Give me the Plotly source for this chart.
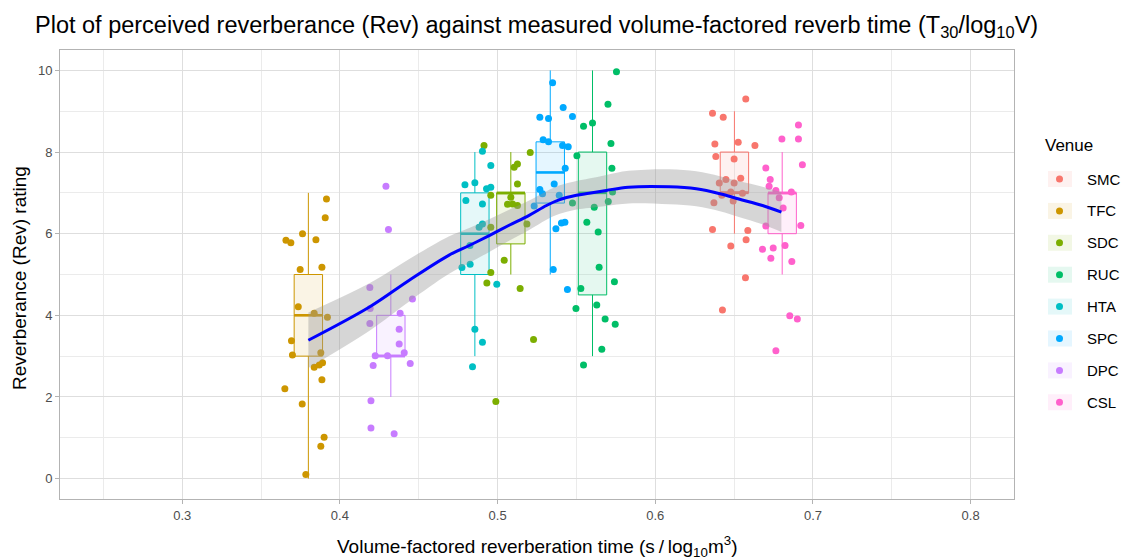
import plotly.graph_objects as go

# Venues, palette and the volume-factored reverb time of each venue
venues = ["SMC", "TFC", "SDC", "RUC", "HTA", "SPC", "DPC", "CSL"]
colors = ["#F8766D", "#CD9600", "#7CAE00", "#00BE67", "#00BFC4", "#00A9FF", "#C77CFF", "#FF61CC"]
venue_t = [0.6502, 0.3800, 0.5084, 0.5602, 0.4856, 0.5334, 0.4323, 0.6805]

# Box statistics of the Rev ratings per venue
box_q1 = [7, 3, 5.75, 4.5, 5, 6.75, 3, 6]
box_median = [7, 4, 7, 7, 6, 7.5, 3, 7]
box_q3 = [8, 5, 7, 8, 7, 8.25, 4, 7]
box_lower = [6, 0, 5, 3, 3, 5, 2, 5]
box_upper = [9, 7, 8, 10, 8, 10, 5, 8]

# Individual (jittered) ratings
smc_x = [0.6574, 0.6363, 0.6431, 0.6378, 0.6526, 0.6632, 0.6384, 0.6500, 0.6448, 0.6406, 0.6542,
         0.6500, 0.6422, 0.6479, 0.6553, 0.6372, 0.6494, 0.6363, 0.6587, 0.6576, 0.6479, 0.6572, 0.6426]
smc_y = [9.30, 8.95, 8.85, 8.20, 8.24, 8.16, 7.89, 7.83, 7.33, 7.24, 7.36,
         7.24, 6.94, 7.02, 6.99, 6.76, 6.80, 6.10, 6.08, 5.85, 5.70, 4.92, 4.13]
tfc_x = [0.3915, 0.3907, 0.3763, 0.3848, 0.3658, 0.3689, 0.3748, 0.3886, 0.3736, 0.3837, 0.3921,
         0.3693, 0.3699, 0.3879, 0.3837, 0.3869, 0.3890, 0.3886, 0.3651, 0.3761, 0.3900, 0.3879, 0.3784]
tfc_y = [6.85, 6.39, 6.00, 5.85, 5.84, 5.78, 5.12, 5.18, 4.21, 4.05, 3.95,
         3.38, 3.03, 3.08, 2.73, 2.78, 2.84, 2.42, 2.20, 1.83, 1.01, 0.79, 0.10]
sdc_x = [0.4914, 0.5207, 0.5126, 0.5105, 0.5126, 0.4957, 0.5084, 0.5063, 0.5126, 0.5095,
         0.4957, 0.5186, 0.5042, 0.4957, 0.4932, 0.5143, 0.5228, 0.4989]
sdc_y = [8.16, 7.99, 7.71, 7.63, 7.22, 6.94, 6.89, 6.72, 6.69, 6.73,
         6.16, 6.24, 5.35, 5.05, 4.79, 4.66, 3.41, 1.89]
ruc_x = [0.5754, 0.5700, 0.5602, 0.5545, 0.5719, 0.5503, 0.5725, 0.5475, 0.5613, 0.5702, 0.5729,
         0.5566, 0.5638, 0.5644, 0.5741, 0.5528, 0.5497, 0.5629, 0.5682, 0.5746, 0.5661, 0.5545]
ruc_y = [9.97, 9.17, 8.71, 8.63, 8.21, 7.91, 7.60, 6.75, 6.65, 6.79, 7.02,
         6.28, 6.04, 5.18, 4.82, 4.66, 4.17, 4.25, 3.91, 3.78, 3.17, 2.78]
hta_x = [0.4904, 0.4957, 0.4793, 0.4856, 0.4930, 0.4957, 0.4799, 0.4904, 0.4904, 0.4883,
         0.4825, 0.4774, 0.4826, 0.4995, 0.4856, 0.4904, 0.4841]
hta_y = [8.02, 7.67, 7.20, 7.25, 7.10, 7.14, 6.81, 6.73, 6.24, 6.16,
         5.71, 5.17, 5.25, 4.76, 3.66, 3.34, 2.74]
spc_x = [0.5349, 0.5416, 0.5268, 0.5323, 0.5475, 0.5289, 0.5323, 0.5412, 0.5448, 0.5429, 0.5359,
         0.5268, 0.5285, 0.5232, 0.5391, 0.5370, 0.5405, 0.5427, 0.5353, 0.5443]
spc_y = [9.70, 9.09, 8.85, 8.82, 8.87, 8.30, 8.25, 8.16, 8.13, 7.60, 7.22,
         7.08, 6.98, 6.68, 6.94, 6.12, 6.26, 6.28, 5.12, 4.63]
dpc_x = [0.4292, 0.4308, 0.4190, 0.4192, 0.4460, 0.4190, 0.4382, 0.4376, 0.4376,
         0.4224, 0.4302, 0.4408, 0.4211, 0.4446, 0.4197, 0.4197, 0.4344]
dpc_y = [7.16, 6.10, 4.68, 4.17, 4.40, 3.80, 4.05, 3.66, 3.30,
         3.01, 3.01, 3.08, 2.77, 2.82, 1.91, 1.24, 1.10]
csl_x = [0.6908, 0.6803, 0.6908, 0.6933, 0.6701, 0.6729, 0.6722, 0.6765, 0.6786, 0.6863, 0.6811,
         0.6701, 0.6923, 0.6823, 0.6680, 0.6748, 0.6733, 0.6866, 0.6853, 0.6901, 0.6765]
csl_y = [8.66, 8.32, 8.32, 7.69, 7.61, 7.33, 7.16, 7.06, 6.88, 7.02, 6.63,
         6.19, 6.20, 5.71, 5.62, 5.65, 5.40, 5.32, 3.99, 3.91, 3.13]

points_x = [smc_x, tfc_x, sdc_x, ruc_x, hta_x, spc_x, dpc_x, csl_x]
points_y = [smc_y, tfc_y, sdc_y, ruc_y, hta_y, spc_y, dpc_y, csl_y]

# Loess fit with its confidence band
smooth_x = [0.380, 0.419, 0.444, 0.469, 0.482, 0.495, 0.507, 0.520, 0.531, 0.539,
            0.550, 0.558, 0.569, 0.583, 0.609, 0.626, 0.641, 0.653, 0.668, 0.680]
smooth_y = [3.39, 4.21, 4.86, 5.47, 5.71, 5.96, 6.20, 6.45, 6.69, 6.83,
            6.94, 6.99, 7.06, 7.14, 7.15, 7.10, 6.98, 6.85, 6.69, 6.53]
smooth_lo = [2.71, 3.63, 4.34, 5.01, 5.28, 5.56, 5.82, 6.09, 6.34, 6.48,
             6.59, 6.63, 6.68, 6.74, 6.72, 6.67, 6.55, 6.41, 6.23, 6.04]
smooth_hi = [4.07, 4.79, 5.38, 5.93, 6.14, 6.36, 6.58, 6.81, 7.04, 7.18,
             7.29, 7.35, 7.44, 7.54, 7.58, 7.53, 7.41, 7.29, 7.15, 7.02]

x_ticks = [0.3, 0.4, 0.5, 0.6, 0.7, 0.8]
y_ticks = [0, 2, 4, 6, 8, 10]


def rgba(hex_color, alpha):
    h = hex_color.lstrip("#")
    r, g, b = int(h[0:2], 16), int(h[2:4], 16), int(h[4:6], 16)
    return f"rgba({r},{g},{b},{alpha})"


FONT = "Liberation Sans, Arial, sans-serif"
BOX_W = 0.018
W, H = 1125, 559
ML, MR, MT, MB = 60, 111, 50, 60

fig = go.Figure()

# Boxes
for i, v in enumerate(venues):
    fig.add_trace(go.Box(
        x=[venue_t[i]], q1=[box_q1[i]], median=[box_median[i]], q3=[box_q3[i]],
        lowerfence=[box_lower[i]], upperfence=[box_upper[i]],
        width=BOX_W, whiskerwidth=0, boxpoints=False,
        fillcolor=rgba(colors[i], 0.1), line=dict(color=colors[i], width=1),
        showlegend=False, hoverinfo="skip",
    ))
    # thicker median bar
    fig.add_trace(go.Scatter(
        x=[venue_t[i] - BOX_W / 2, venue_t[i] + BOX_W / 2],
        y=[box_median[i], box_median[i]], mode="lines",
        line=dict(color=colors[i], width=2.6), showlegend=False, hoverinfo="skip",
    ))

# Jittered ratings
for i, v in enumerate(venues):
    fig.add_trace(go.Scatter(
        x=points_x[i], y=points_y[i], mode="markers", name=v,
        marker=dict(color=colors[i], size=7, line=dict(width=0)),
        showlegend=False,
    ))

# Confidence band and loess line
fig.add_trace(go.Scatter(
    x=smooth_x, y=smooth_lo, mode="lines", line=dict(width=0, shape="spline"),
    showlegend=False, hoverinfo="skip",
))
fig.add_trace(go.Scatter(
    x=smooth_x, y=smooth_hi, mode="lines", line=dict(width=0, shape="spline"),
    fill="tonexty", fillcolor="rgba(153,153,153,0.4)", showlegend=False, hoverinfo="skip",
))
fig.add_trace(go.Scatter(
    x=smooth_x, y=smooth_y, mode="lines", line=dict(color="#0000FF", width=3, shape="spline"),
    showlegend=False, hoverinfo="skip",
))

# Pixel helpers for placing items outside the panel
pw, ph = W - ML - MR, H - MT - MB


def px_x(p):
    return (p - ML) / pw


def px_y(p):
    return (H - MB - p) / ph


shapes = []
annotations = [
    # axis titles
    dict(text="Volume-factored reverberation time (s\u2009/\u2009log<sub>10</sub>m<sup>3</sup>)",
         xref="paper", yref="paper", x=px_x(537), y=px_y(546),
         xanchor="center", yanchor="middle", showarrow=False,
         font=dict(family=FONT, size=19, color="black")),
    dict(text="Reverberance (Rev) rating",
         xref="paper", yref="paper", x=px_x(19), y=px_y(278), textangle=-90,
         xanchor="center", yanchor="middle", showarrow=False,
         font=dict(family=FONT, size=19, color="black")),
    # legend title
    dict(text="Venue", xref="paper", yref="paper", x=px_x(1043), y=px_y(145),
         xanchor="left", yanchor="middle", showarrow=False,
         font=dict(family=FONT, size=17, color="black")),
]
for i, v in enumerate(venues):
    cy = 179 + i * 31.9
    shapes.append(dict(
        type="rect", xref="paper", yref="paper",
        x0=px_x(1048), x1=px_x(1072), y0=px_y(cy + 8), y1=px_y(cy - 8),
        fillcolor=rgba(colors[i], 0.1), line=dict(width=0), layer="above",
    ))
    shapes.append(dict(
        type="circle", xref="paper", yref="paper",
        x0=px_x(1056), x1=px_x(1063), y0=px_y(cy + 3.5), y1=px_y(cy - 3.5),
        fillcolor=colors[i], line=dict(width=0), layer="above",
    ))
    annotations.append(dict(
        text=v, xref="paper", yref="paper", x=px_x(1085), y=px_y(cy),
        xanchor="left", yanchor="middle", showarrow=False,
        font=dict(family=FONT, size=15, color="black"),
    ))

axis_common = dict(
    showline=True, mirror=True, linecolor="#B3B3B3", linewidth=1,
    ticks="outside", ticklen=4, tickcolor="#B3B3B3",
    gridcolor="#DEDEDE", gridwidth=1, zeroline=False, automargin=False,
    tickfont=dict(family=FONT, size=13, color="#4D4D4D"),
)

fig.update_layout(
    width=W, height=H,
    margin=dict(l=ML, r=MR, t=MT, b=MB),
    paper_bgcolor="white", plot_bgcolor="white",
    title=dict(
        text="Plot of perceived reverberance (Rev) against measured volume-factored reverb time (T<sub>30</sub>/log<sub>10</sub>V)",
        xref="container", yref="container", x=35 / W, y=1 - 25 / H,
        xanchor="left", yanchor="middle",
        font=dict(family=FONT, size=23.5, color="black"),
    ),
    xaxis=dict(
        range=[0.2225, 0.8275], tickvals=x_ticks, ticktext=[f"{t:.1f}" for t in x_ticks],
        minor=dict(tickvals=[0.25, 0.35, 0.45, 0.55, 0.65, 0.75], showgrid=True,
                   gridcolor="#EBEBEB", gridwidth=1, ticks=""),
        **axis_common,
    ),
    yaxis=dict(
        range=[-0.5, 10.5], tickvals=y_ticks, ticktext=[str(t) for t in y_ticks],
        minor=dict(tickvals=[1, 3, 5, 7, 9], showgrid=True,
                   gridcolor="#EBEBEB", gridwidth=1, ticks=""),
        **axis_common,
    ),
    shapes=shapes,
    annotations=annotations,
    showlegend=False,
)

fig.write_html("out.html")
